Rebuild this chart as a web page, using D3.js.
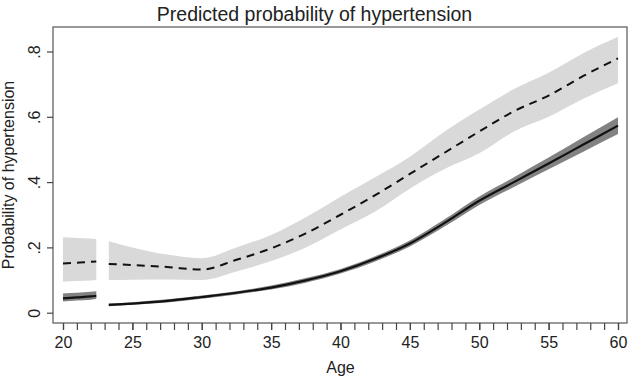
<!DOCTYPE html>
<html>
<head>
<meta charset="utf-8">
<script src="https://cdn.jsdelivr.net/npm/d3@7"></script>
<style>
  body { margin: 0; background: #fff; }
  text { font-family: "Liberation Sans", Arial, sans-serif; fill: #222; }
</style>
</head>
<body>
<div id="chart"></div>
<script>
// ages for the two pieces of each curve (there is a gap at ~23)
const agesA = [20, 21, 22, 22.4]
const agesB = [23.3, 25, 27.5, 30, 32.5, 35, 37.5, 40, 42.5, 45, 47.5, 50, 52.5, 55, 57.5, 60]

// dashed series with light grey CI
const dashA    = [0.151, 0.153, 0.156, 0.157]
const dashLoA  = [0.095, 0.097, 0.099, 0.100]
const dashHiA  = [0.231, 0.229, 0.227, 0.226]
const dashB    = [0.149, 0.146, 0.140, 0.132, 0.162, 0.197, 0.243, 0.300, 0.360, 0.425, 0.490, 0.555, 0.617, 0.665, 0.725, 0.779]
const dashLoB  = [0.100, 0.101, 0.102, 0.100, 0.126, 0.158, 0.200, 0.255, 0.310, 0.380, 0.440, 0.488, 0.555, 0.600, 0.655, 0.703]
const dashHiB  = [0.219, 0.200, 0.178, 0.167, 0.200, 0.238, 0.292, 0.355, 0.415, 0.478, 0.555, 0.622, 0.685, 0.735, 0.795, 0.845]

// solid series with dark grey CI
const solidA   = [0.044, 0.047, 0.050, 0.052]
const solidLoA = [0.034, 0.037, 0.040, 0.042]
const solidHiA = [0.059, 0.061, 0.064, 0.066]
const solidB   = [0.024, 0.028, 0.036, 0.048, 0.061, 0.077, 0.099, 0.127, 0.165, 0.212, 0.275, 0.343, 0.400, 0.457, 0.515, 0.573]
const solidLoB = [0.020, 0.024, 0.031, 0.043, 0.056, 0.071, 0.092, 0.120, 0.157, 0.203, 0.264, 0.330, 0.385, 0.439, 0.493, 0.547]
const solidHiB = [0.028, 0.032, 0.041, 0.053, 0.066, 0.083, 0.106, 0.134, 0.173, 0.221, 0.286, 0.356, 0.415, 0.475, 0.537, 0.599]

const xTicks = [20, 25, 30, 35, 40, 45, 50, 55, 60]
const xMinor = d3.range(20, 61, 1)
const yTicks = [0, 0.2, 0.4, 0.6, 0.8]
const yLabels = ["0", ".2", ".4", ".6", ".8"]

const WIDTH = 629
const HEIGHT = 378
const FRAME = {LEFT: 53, RIGHT: 627, TOP: 27, BOTTOM: 323}

const x = d3.scaleLinear().domain([20, 60]).range([63, 618])
const y = d3.scaleLinear().domain([0, 0.8]).range([312.7, 51.5])

const svg = d3.select("#chart").append("svg")
    .attr("width", WIDTH)
    .attr("height", HEIGHT)

// plot region outline
svg.append("rect")
    .attr("x", FRAME.LEFT)
    .attr("y", FRAME.TOP)
    .attr("width", FRAME.RIGHT - FRAME.LEFT)
    .attr("height", FRAME.BOTTOM - FRAME.TOP)
    .attr("fill", "none")
    .attr("stroke", "#555")
    .attr("stroke-width", 1.2)

// build segment objects
function seg(ages, mid, lo, hi) {
    return ages.map((a, i) => ({age: a, mid: mid[i], lo: lo[i], hi: hi[i]}))
}
const dashSegs  = [seg(agesA, dashA, dashLoA, dashHiA), seg(agesB, dashB, dashLoB, dashHiB)]
const solidSegs = [seg(agesA, solidA, solidLoA, solidHiA), seg(agesB, solidB, solidLoB, solidHiB)]

const band = d3.area()
    .x(d => x(d.age))
    .y0(d => y(d.lo))
    .y1(d => y(d.hi))
    .curve(d3.curveMonotoneX)
const line = d3.line()
    .x(d => x(d.age))
    .y(d => y(d.mid))
    .curve(d3.curveMonotoneX)

svg.selectAll(".dashBand").data(dashSegs).enter().append("path")
    .attr("d", band)
    .attr("fill", "#d9d9d9")
svg.selectAll(".solidBand").data(solidSegs).enter().append("path")
    .attr("d", band)
    .attr("fill", "#828282")

svg.selectAll(".dashLine").data(dashSegs).enter().append("path")
    .attr("d", line)
    .attr("fill", "none")
    .attr("stroke", "#111")
    .attr("stroke-width", 2)
    .attr("stroke-dasharray", "8,6")
svg.selectAll(".solidLine").data(solidSegs).enter().append("path")
    .attr("d", line)
    .attr("fill", "none")
    .attr("stroke", "#111")
    .attr("stroke-width", 2.2)

// x axis: minor ticks every year, labels every 5
const xAxisG = svg.append("g").attr("transform", `translate(0,${FRAME.BOTTOM})`)
xAxisG.append("g")
    .call(d3.axisBottom(x).tickValues(xMinor).tickSize(7).tickFormat(""))
    .call(g => g.select(".domain").remove())
xAxisG.append("g")
    .call(d3.axisBottom(x).tickValues(xTicks).tickSize(7).tickPadding(7).tickFormat(d3.format("d")))
    .call(g => g.select(".domain").remove())
xAxisG.selectAll("line").attr("stroke", "#444").attr("stroke-width", 1.2)
xAxisG.selectAll("text").style("font-size", "16px").attr("fill", "#222")

// y axis with rotated labels
const yAxisG = svg.append("g").attr("transform", `translate(${FRAME.LEFT},0)`)
    .call(d3.axisLeft(y).tickValues(yTicks).tickSize(6).tickFormat((d, i) => yLabels[i]))
    .call(g => g.select(".domain").remove())
yAxisG.selectAll("line").attr("stroke", "#444").attr("stroke-width", 1.2)
yAxisG.selectAll("text")
    .attr("transform", "rotate(-90)")
    .attr("x", 0)
    .attr("y", -13)
    .attr("dy", 0)
    .attr("text-anchor", "middle")
    .attr("fill", "#222")
    .style("font-size", "16px")

// titles
svg.append("text")
    .attr("x", WIDTH / 2)
    .attr("y", 21)
    .attr("text-anchor", "middle")
    .style("font-size", "19.5px")
    .text("Predicted probability of hypertension")

svg.append("text")
    .attr("x", x(40))
    .attr("y", 373)
    .attr("text-anchor", "middle")
    .style("font-size", "16px")
    .text("Age")

svg.append("text")
    .attr("transform", `translate(14,${(FRAME.TOP + FRAME.BOTTOM) / 2}) rotate(-90)`)
    .attr("text-anchor", "middle")
    .style("font-size", "16px")
    .text("Probability of hypertension")
</script>
</body>
</html>
